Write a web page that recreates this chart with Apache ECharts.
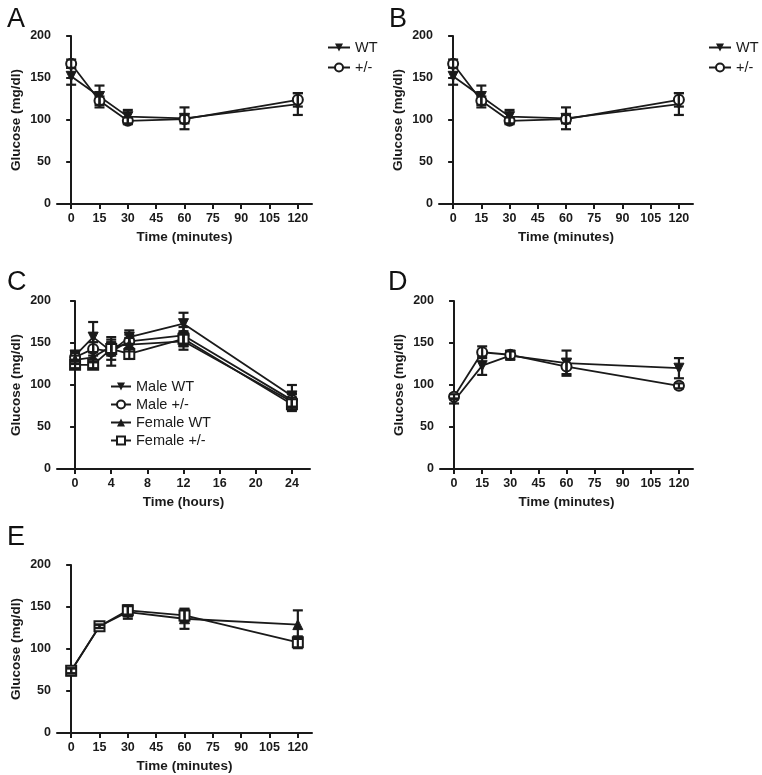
<!DOCTYPE html>
<html><head><meta charset="utf-8">
<script src="https://cdn.jsdelivr.net/npm/echarts@6/dist/echarts.min.js"></script>
<style>html,body{margin:0;padding:0;background:#fff}#c{width:762px;height:775px}</style>
</head><body><div id="c"></div>
<script>
// ---- data ----
const timesMin = [0, 15, 30, 60, 120];
const timesHr = [0, 2, 4, 6, 12, 24];
const minTicks = [0, 15, 30, 45, 60, 75, 90, 105, 120];
const hrTicks = [0, 4, 8, 12, 16, 20, 24];
const yTicks = [0, 50, 100, 150, 200];

const aWT = [152, 128, 104, 102, 119];
const aWTErr = [10, 13, 8, 13, 13];
const aHet = [167, 123, 99, 101, 124];
const aHetErr = [5, 5, 4, 5, 8];

const bWT = [152, 128, 104, 102, 119];
const bWTErr = [10, 13, 8, 13, 13];
const bHet = [167, 123, 99, 101, 124];
const bHetErr = [5, 5, 4, 5, 8];

const cMaleWT = [135, 157, 140, 157, 173, 87];
const cMaleWTErr = [6, 18, 17, 8, 13, 13];
const cMaleHet = [133, 143, 140, 152, 159, 82];
const cMaleHetErr = [5, 8, 10, 8, 10, 8];
const cFemWT = [130, 133, 146, 148, 152, 80];
const cFemWTErr = [5, 6, 8, 8, 10, 9];
const cFemHet = [124, 124, 143, 137, 155, 77];
const cFemHetErr = [4, 4, 8, 6, 9, 8];

const dWT = [81, 123, 135, 126, 120];
const dWTErr = [3, 11, 5, 15, 12];
const dHet = [86, 139, 136, 122, 99];
const dHetErr = [3, 7, 5, 9, 3];

const eWT = [74, 127, 144, 136, 129];
const eWTErr = [3, 2, 8, 12, 17];
const eHet = [74, 127, 146, 140, 108];
const eHetErr = [3, 2, 5, 7, 7];

// ---- chart ----
const FONT = 'Liberation Sans, Arial, sans-serif';
const INK = '#1a1a1a';
const grids = [
  {left: 57, top: 36, width: 255, height: 168},
  {left: 439, top: 36, width: 254, height: 168},
  {left: 57, top: 301, width: 253, height: 168},
  {left: 440, top: 301, width: 253, height: 168},
  {left: 57, top: 565, width: 255, height: 168}
];
const xCfg = [
  {min: -7.5, max: 127.5, ticks: minTicks, name: 'Time (minutes)'},
  {min: -7.5, max: 127.5, ticks: minTicks, name: 'Time (minutes)'},
  {min: -2, max: 26, ticks: hrTicks, name: 'Time (hours)'},
  {min: -7.5, max: 127.5, ticks: minTicks, name: 'Time (minutes)'},
  {min: -7.5, max: 127.5, ticks: minTicks, name: 'Time (minutes)'}
];
const axisLine = {lineStyle: {color: INK, width: 2}};
const axisTick = {show: true, length: 5, lineStyle: {color: INK, width: 2}};
const labelStyle = {color: INK, fontFamily: FONT, fontWeight: 'bold', fontSize: 12.5};
const nameStyle = {color: INK, fontFamily: FONT, fontWeight: 'bold', fontSize: 13.5};

const xAxis = xCfg.map((c, i) => ({
  gridIndex: i, type: 'value', min: c.min, max: c.max,
  name: c.name, nameLocation: 'middle', nameGap: 26,
  nameTextStyle: nameStyle,
  axisLine, splitLine: {show: false},
  axisTick: Object.assign({customValues: c.ticks}, axisTick),
  axisLabel: Object.assign({customValues: c.ticks, margin: 8}, labelStyle)
}));
const yAxis = grids.map((g, i) => ({
  gridIndex: i, type: 'value', min: 0, max: 200, interval: 50,
  name: 'Glucose (mg/dl)', nameLocation: 'middle', nameGap: 34, nameRotate: 90,
  nameTextStyle: nameStyle,
  axisLine: Object.assign({show: true}, axisLine), splitLine: {show: false},
  axisTick: Object.assign({customValues: yTicks}, axisTick),
  axisLabel: Object.assign({customValues: yTicks, margin: 6}, labelStyle)
}));

const SYM = {
  down: {symbol: 'triangle', symbolRotate: 180, symbolSize: 10, itemStyle: {color: INK, borderColor: INK}},
  up: {symbol: 'triangle', symbolRotate: 0, symbolSize: 10, itemStyle: {color: INK, borderColor: INK}},
  circle: {symbol: 'emptyCircle', symbolSize: 10, itemStyle: {color: INK, borderColor: INK, borderWidth: 2}},
  square: {symbol: 'emptyRect', symbolSize: 10, itemStyle: {color: INK, borderColor: INK, borderWidth: 2}}
};
const series = [];
function add(gi, name, xs, ys, errs, sym) {
  series.push(Object.assign({
    type: 'line', name, xAxisIndex: gi, yAxisIndex: gi,
    data: xs.map((x, i) => [x, ys[i]]),
    showAllSymbol: true, lineStyle: {color: INK, width: 1.8},
    animation: false, z: 3
  }, SYM[sym]));
  series.push({
    type: 'custom', name: name + ' err', xAxisIndex: gi, yAxisIndex: gi, silent: true, animation: false, z: 4,
    data: xs.map((x, i) => [x, ys[i] - errs[i], ys[i] + errs[i]]),
    encode: {x: 0, y: [1, 2]},
    renderItem: (p, api) => {
      const x = api.value(0);
      const lo = api.coord([x, api.value(1)]);
      const hi = api.coord([x, api.value(2)]);
      const w = 5;
      const st = {stroke: INK, lineWidth: 2.2};
      return {type: 'group', children: [
        {type: 'line', shape: {x1: lo[0], y1: lo[1], x2: hi[0], y2: hi[1]}, style: st},
        {type: 'line', shape: {x1: lo[0] - w, y1: lo[1], x2: lo[0] + w, y2: lo[1]}, style: st},
        {type: 'line', shape: {x1: hi[0] - w, y1: hi[1], x2: hi[0] + w, y2: hi[1]}, style: st}
      ]};
    }
  });
}
add(0, 'WT', timesMin, aWT, aWTErr, 'down');
add(0, '+/-', timesMin, aHet, aHetErr, 'circle');
add(1, 'WT', timesMin, bWT, bWTErr, 'down');
add(1, '+/-', timesMin, bHet, bHetErr, 'circle');
add(2, 'Male WT', timesHr, cMaleWT, cMaleWTErr, 'down');
add(2, 'Male +/-', timesHr, cMaleHet, cMaleHetErr, 'circle');
add(2, 'Female WT', timesHr, cFemWT, cFemWTErr, 'up');
add(2, 'Female +/-', timesHr, cFemHet, cFemHetErr, 'square');
add(3, 'Male WT', timesMin, dWT, dWTErr, 'down');
add(3, 'Male +/-', timesMin, dHet, dHetErr, 'circle');
add(4, 'Female WT', timesMin, eWT, eWTErr, 'up');
add(4, 'Female +/-', timesMin, eHet, eHetErr, 'square');

const legText = {color: INK, fontFamily: FONT, fontSize: 14.5};
const legends = [
  {left: 322, top: 35, itemGap: 5, itemWidth: 22, data: ['WT', '+/-']},
  {left: 703, top: 35, itemGap: 5, itemWidth: 22, data: ['WT', '+/-']},
  {left: 105, top: 374, itemGap: 3, itemWidth: 20, data: ['Male WT', 'Male +/-', 'Female WT', 'Female +/-']}
].map(l => Object.assign({
  orient: 'vertical', itemHeight: 10, selectedMode: false,
  textStyle: legText
}, l));

const letters = [['A', 2, 1], ['B', 384, 1], ['C', 2, 264], ['D', 383, 264], ['E', 2, 519]];
const title = letters.map(([t, x, y]) => ({text: t, left: x, top: y,
  textStyle: {fontFamily: FONT, fontWeight: 'normal', fontSize: 27, color: '#111'}}));

const chart = echarts.init(document.getElementById('c'), null, {renderer: 'canvas'});
chart.setOption({
  backgroundColor: '#fff', animation: false,
  title, grid: grids, xAxis, yAxis, series, legend: legends
});
</script></body></html>
